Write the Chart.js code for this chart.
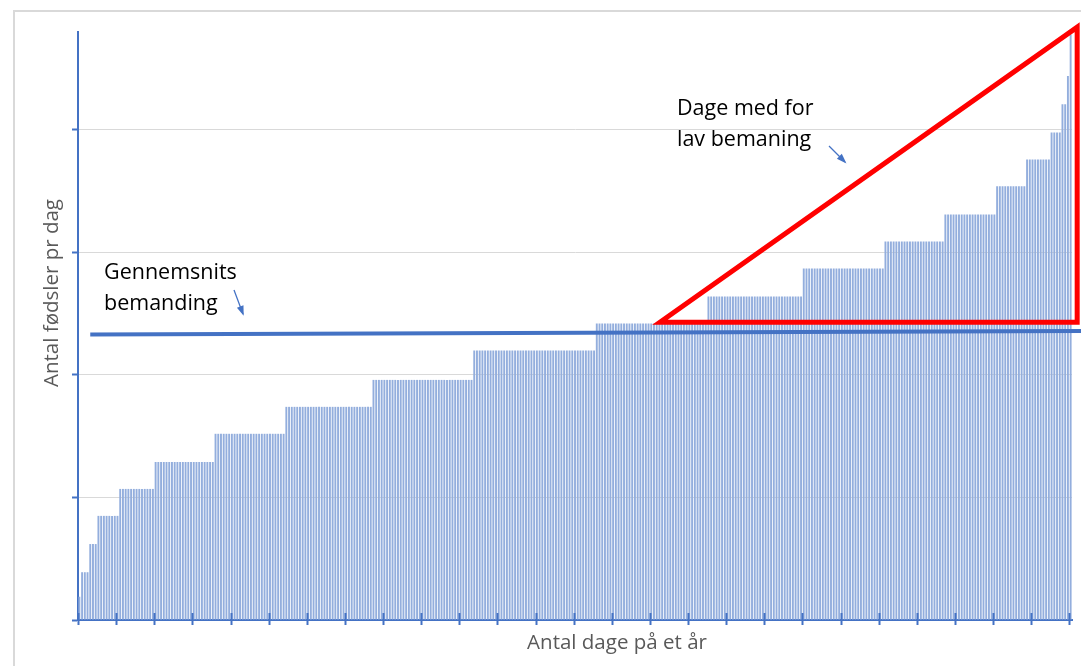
<!DOCTYPE html>
<html>
<head>
<meta charset="utf-8">
<script src="https://cdn.jsdelivr.net/npm/chart.js@4/dist/chart.umd.min.js"></script>
<style>
  html, body { margin: 0; padding: 0; background: #ffffff; }
  #wrap { position: relative; width: 1081px; height: 666px; overflow: hidden; font-family: "Open Sans", "Noto Sans", sans-serif; }
  #frame { position: absolute; left: 13px; top: 10px; width: 2000px; height: 2000px; border-left: 2px solid #d9d9d9; border-top: 2px solid #d9d9d9; }
  canvas { position: absolute; left: 0; top: 0; }
  .note { position: absolute; color: #000; font-size: 21.5px; line-height: 31px; white-space: nowrap; }
  .axt { position: absolute; color: #595959; font-size: 20.5px; white-space: nowrap; }
</style>
</head>
<body>
<div id="wrap">
  <div id="frame"></div>
  <canvas id="c" width="1081" height="666"></canvas>
  <div class="note" style="left:677px; top:91px;">Dage med for<br>lav bemaning</div>
  <div class="note" style="left:104px; top:255px;">Gennemsnits<br>bemanding</div>
  <div class="axt" id="xt" style="left:617px; top:641px; transform: translate(-50%,-50%);">Antal dage på et år</div>
  <div class="axt" id="yt" style="left:50px; top:293px; transform: translate(-50%,-50%) rotate(-90deg);">Antal fødsler pr dag</div>
</div>
<script>
// ---- data ----
// births-per-day levels (in axis units, gridlines every 10) and number of days at each level
const levelValues  = [1.9, 3.9, 6.2, 8.5, 10.7, 12.9, 15.2, 17.4, 19.6, 22.0, 24.2, 26.4, 28.7, 30.9, 33.1, 35.4, 37.6, 39.8, 42.1, 44.4, 47.8];
const daysPerLevel = [1, 3, 3, 8, 13, 22, 26, 32, 37, 45, 41, 35, 30, 22, 19, 11, 9, 4, 2, 1, 1];
const yTicks = [0, 10, 20, 30, 40];
const yMax = 48;
const xTickEvery = 14;
// average staffing line (value at left end, value at right end) and start day
const averageValues = [23.3, 23.6];
const averageStartDay = 4;
// red triangle: day positions (left corner, right edge) and values (bottom, top)
const triangleDays = [213.2, 366.4];
const triangleValues = [24.3, 48.4];

// expand histogram into one bar per day
const dayValues = [];
levelValues.forEach((v, i) => { for (let k = 0; k < daysPerLevel[i]; k++) dayValues.push(v); });
const dayLabels = dayValues.map((_, i) => String(i + 1));
const nDays = dayValues.length;

const BLUE = '#4472c4';

function xAt(scale, day) { return scale.getPixelForDecimal((day + 0.5) / nDays); }

function arrow(ctx, x1, y1, x2, y2) {
  ctx.save();
  ctx.strokeStyle = BLUE; ctx.fillStyle = BLUE; ctx.lineWidth = 1.3;
  ctx.beginPath(); ctx.moveTo(x1, y1); ctx.lineTo(x2, y2); ctx.stroke();
  const a = Math.atan2(y2 - y1, x2 - x1), L = 8, W = 3.5;
  ctx.beginPath();
  ctx.moveTo(x2 + Math.cos(a) * 2, y2 + Math.sin(a) * 2);
  ctx.lineTo(x2 - Math.cos(a) * L - Math.sin(a) * W, y2 - Math.sin(a) * L + Math.cos(a) * W);
  ctx.lineTo(x2 - Math.cos(a) * L + Math.sin(a) * W, y2 - Math.sin(a) * L - Math.cos(a) * W);
  ctx.closePath(); ctx.fill();
  ctx.restore();
}

const overlay = {
  id: 'overlay',
  afterDraw(chart) {
    const ctx = chart.ctx, xs = chart.scales.x, ys = chart.scales.y, area = chart.chartArea;
    // x tick marks crossing the axis
    ctx.save();
    ctx.strokeStyle = BLUE; ctx.lineWidth = 2;
    for (let k = 0; k <= nDays; k += xTickEvery) {
      const x = Math.round(xs.getPixelForDecimal(k / nDays)) + 0.5;
      ctx.beginPath(); ctx.moveTo(x, area.bottom - 7); ctx.lineTo(x, area.bottom + 5); ctx.stroke();
    }
    ctx.restore();
    // average line
    ctx.save();
    ctx.strokeStyle = BLUE; ctx.lineWidth = 4;
    ctx.beginPath();
    ctx.moveTo(xs.getPixelForDecimal((averageStartDay + 0.5) / nDays), ys.getPixelForValue(averageValues[0]));
    ctx.lineTo(chart.width, ys.getPixelForValue(averageValues[1]));
    ctx.stroke();
    ctx.restore();
    // red triangle
    ctx.save();
    ctx.strokeStyle = '#ff0000'; ctx.lineWidth = 5; ctx.lineJoin = 'miter';
    const xl = xAt(xs, triangleDays[0]), xr = xAt(xs, triangleDays[1]);
    const yb = ys.getPixelForValue(triangleValues[0]), yt = ys.getPixelForValue(triangleValues[1]);
    ctx.beginPath(); ctx.moveTo(xl, yb); ctx.lineTo(xr, yb); ctx.lineTo(xr, yt); ctx.closePath(); ctx.stroke();
    ctx.restore();
    // small pointer arrows
    arrow(ctx, 234, 290, 243, 314);
    arrow(ctx, 829, 146, 845, 162);
  }
};

new Chart(document.getElementById('c'), {
  type: 'bar',
  data: {
    labels: dayLabels,
    datasets: [{
      data: dayValues,
      backgroundColor: '#93aedd',
      borderWidth: 0,
      barPercentage: 0.7,
      categoryPercentage: 1.0
    }]
  },
  options: {
    responsive: false,
    animation: false,
    events: [],
    layout: { padding: { top: 32, right: 9, left: 0, bottom: 0 } },
    plugins: { legend: { display: false }, tooltip: { enabled: false } },
    scales: {
      x: {
        type: 'category',
        offset: true,
        grid: { display: false },
        border: { display: true, color: BLUE, width: 2 },
        ticks: { display: false },
        afterFit(s) { s.height = 46; }
      },
      y: {
        min: 0, max: yMax,
        afterBuildTicks(s) { s.ticks = yTicks.map(v => ({ value: v })); },
        ticks: { display: false },
        grid: { color: '#d9d9d9', lineWidth: 1, drawTicks: true, tickLength: 6, tickColor: BLUE, tickWidth: 2 },
        border: { display: true, color: BLUE, width: 2 },
        afterFit(s) { s.width = 78; }
      }
    }
  },
  plugins: [overlay]
});
</script>
</body>
</html>
